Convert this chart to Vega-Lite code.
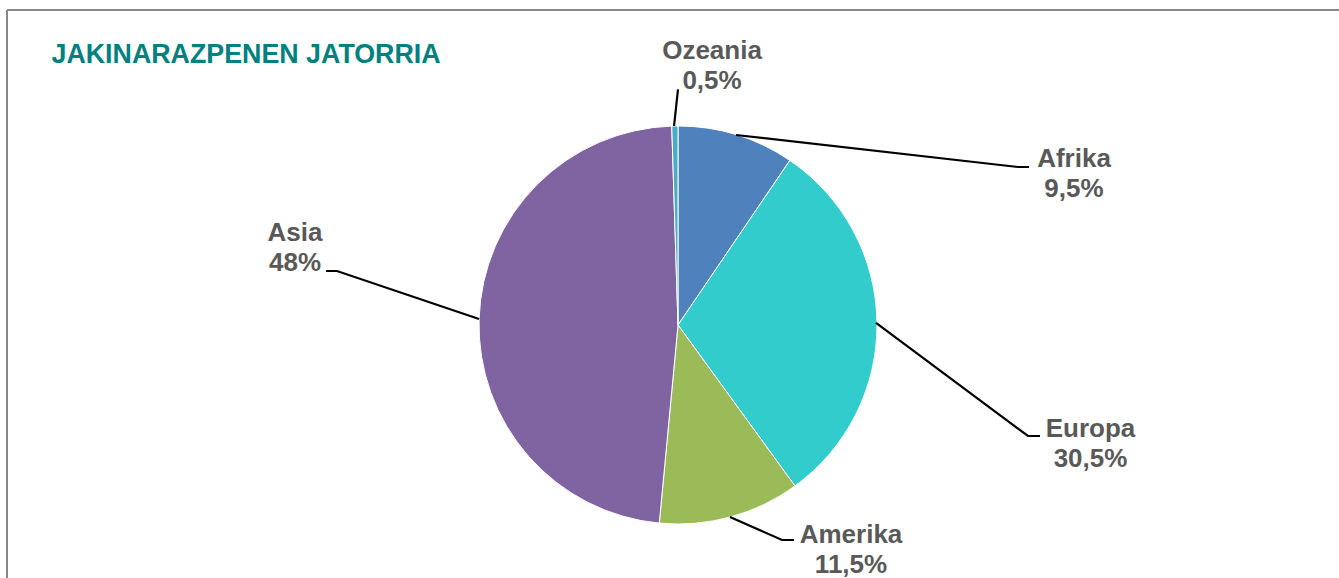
{
  "$schema": "https://vega.github.io/schema/vega-lite/v6.json",
  "width": 1332,
  "height": 568,
  "autosize": "none",
  "padding": {"left": 7, "top": 10, "right": 0, "bottom": 0},
  "background": "#ffffff",
  "config": {"view": {"stroke": null}},
  "datasets": {
    "slices": [
      {"region": "Afrika", "value": 9.5, "ord": 1},
      {"region": "Europa", "value": 30.5, "ord": 2},
      {"region": "Amerika", "value": 11.5, "ord": 3},
      {"region": "Asia", "value": 48, "ord": 4},
      {"region": "Ozeania", "value": 0.5, "ord": 5}
    ],
    "labels": [
      {"region": "Ozeania", "label": "Ozeania\n0,5%", "lx": 0.1709, "ly": 1.3387},
      {"region": "Afrika", "label": "Afrika\n9,5%", "lx": 1.9899, "ly": 0.794},
      {"region": "Europa", "label": "Europa\n30,5%", "lx": 2.0729, "ly": -0.5628},
      {"region": "Amerika", "label": "Amerika\n11,5%", "lx": 0.8693, "ly": -1.0955},
      {"region": "Asia", "label": "Asia\n48%", "lx": -1.9246, "ly": 0.4221}
    ],
    "leaders": [
      {"region": "Ozeania", "step": 1, "px": -0.02, "py": 1.0},
      {"region": "Ozeania", "step": 2, "px": 0.0, "py": 1.1844},
      {"region": "Afrika", "step": 1, "px": 0.2915, "py": 0.9548},
      {"region": "Afrika", "step": 2, "px": 1.7085, "py": 0.794},
      {"region": "Afrika", "step": 3, "px": 1.7638, "py": 0.794},
      {"region": "Europa", "step": 1, "px": 0.995, "py": 0.0101},
      {"region": "Europa", "step": 2, "px": 1.7588, "py": -0.5578},
      {"region": "Europa", "step": 3, "px": 1.8191, "py": -0.5578},
      {"region": "Amerika", "step": 1, "px": 0.2613, "py": -0.9648},
      {"region": "Amerika", "step": 2, "px": 0.5226, "py": -1.0804},
      {"region": "Amerika", "step": 3, "px": 0.5829, "py": -1.0804},
      {"region": "Asia", "step": 1, "px": -1.0, "py": 0.0302},
      {"region": "Asia", "step": 2, "px": -1.7136, "py": 0.2714},
      {"region": "Asia", "step": 3, "px": -1.7688, "py": 0.2714}
    ]
  },
  "layer": [
    {
      "data": {"values": [{}]},
      "mark": {"type": "rule", "color": "#878787", "strokeWidth": 2},
      "encoding": {
        "x": {"datum": -3.3719, "type": "quantitative", "scale": {"domain": [-3.3719, 3.3216], "nice": false, "zero": false}, "axis": null}
      }
    },
    {
      "data": {"values": [{}]},
      "mark": {"type": "rule", "color": "#878787", "strokeWidth": 2},
      "encoding": {
        "y": {"datum": 1.5829, "type": "quantitative", "scale": {"domain": [-1.2714, 1.5829], "nice": false, "zero": false}, "axis": null}
      }
    },
    {
      "data": {"name": "slices"},
      "mark": {"type": "arc", "outerRadius": 199, "stroke": "#ffffff", "strokeWidth": 1},
      "encoding": {
        "x": {"datum": 0, "type": "quantitative", "scale": {"domain": [-3.3719, 3.3216], "nice": false, "zero": false}, "axis": null},
        "y": {"datum": 0, "type": "quantitative", "scale": {"domain": [-1.2714, 1.5829], "nice": false, "zero": false}, "axis": null},
        "theta": {"field": "value", "type": "quantitative", "stack": true},
        "order": {"field": "ord", "type": "quantitative"},
        "color": {
          "field": "region",
          "type": "nominal",
          "scale": {
            "domain": ["Afrika", "Europa", "Amerika", "Asia", "Ozeania"],
            "range": ["#4F81BD", "#33CCCC", "#9BBB59", "#8064A2", "#4BACC6"]
          },
          "legend": null
        }
      }
    },
    {
      "data": {"name": "leaders"},
      "mark": {"type": "line", "color": "#000000", "strokeWidth": 2.2},
      "encoding": {
        "x": {"field": "px", "type": "quantitative"},
        "y": {"field": "py", "type": "quantitative"},
        "detail": {"field": "region"},
        "order": {"field": "step", "type": "quantitative"}
      }
    },
    {
      "data": {"name": "labels"},
      "mark": {
        "type": "text",
        "align": "center",
        "baseline": "alphabetic",
        "font": "Liberation Sans",
        "fontWeight": "bold",
        "fontSize": 26,
        "lineBreak": "\n",
        "lineHeight": 30,
        "color": "#595959"
      },
      "encoding": {
        "x": {"field": "lx", "type": "quantitative"},
        "y": {"field": "ly", "type": "quantitative"},
        "text": {"field": "label"}
      }
    },
    {
      "data": {"values": [{"title": "JAKINARAZPENEN JATORRIA"}]},
      "mark": {
        "type": "text",
        "align": "left",
        "baseline": "alphabetic",
        "font": "Liberation Sans",
        "fontWeight": "bold",
        "fontSize": 26.8,
        "color": "#00807F"
      },
      "encoding": {
        "x": {"datum": -3.1482},
        "y": {"datum": 1.3166},
        "text": {"field": "title"}
      }
    }
  ]
}
